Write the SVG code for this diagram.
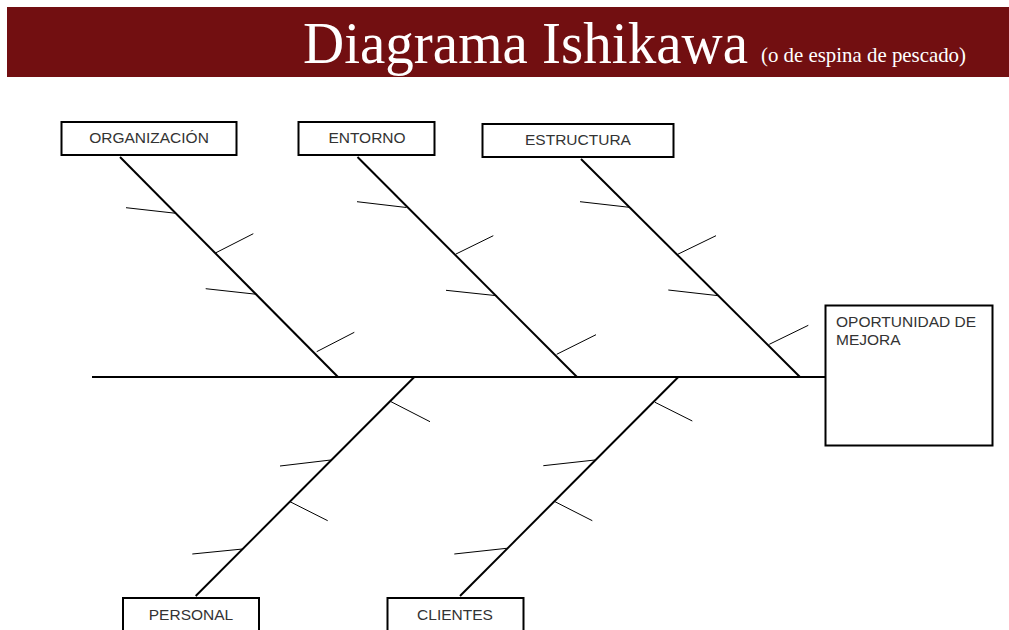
<svg xmlns="http://www.w3.org/2000/svg" width="1009" height="630" viewBox="0 0 1009 630">
<style>
.box{fill:#fff;stroke:#000;stroke-width:2}
.lbl{font-family:"Liberation Sans",Arial,sans-serif;font-size:15.5px;fill:#333}
.bone{stroke:#000;stroke-width:2;fill:none}
.tick{stroke:#000;stroke-width:1;fill:none}
</style>
<rect x="0" y="0" width="1009" height="630" fill="#fff"/>
<g id="header">
<rect x="7" y="7" width="1002" height="70" fill="#720F11"/>
<text x="303" y="63" font-family="'Liberation Serif','Times New Roman',serif" font-size="60" fill="#fff" textLength="445" lengthAdjust="spacingAndGlyphs">Diagrama Ishikawa</text>
<text x="761" y="62" font-family="'Liberation Serif','Times New Roman',serif" font-size="21" fill="#fff" textLength="205" lengthAdjust="spacingAndGlyphs">(o de espina de pescado)</text>
</g>
<g id="connectors">
<line class="bone" x1="92" y1="377" x2="825" y2="377"/>
<line class="bone" x1="120" y1="157" x2="338" y2="377"/>
<line class="tick" x1="126" y1="207.7" x2="176" y2="213.3"/>
<line class="tick" x1="216" y1="252.7" x2="253.3" y2="233.7"/>
<line class="tick" x1="205.7" y1="288.7" x2="256.7" y2="294.3"/>
<line class="tick" x1="316.7" y1="351.7" x2="354.3" y2="332.3"/>
<line class="bone" x1="357.5" y1="157" x2="577" y2="377"/>
<line class="tick" x1="357" y1="201.7" x2="406.5" y2="207.5"/>
<line class="tick" x1="456" y1="254" x2="493.3" y2="235.7"/>
<line class="tick" x1="446" y1="290.3" x2="496.7" y2="295.7"/>
<line class="tick" x1="556.7" y1="354.3" x2="596" y2="334.7"/>
<line class="bone" x1="581" y1="159" x2="800" y2="377"/>
<line class="tick" x1="580" y1="201.7" x2="629.3" y2="207.3"/>
<line class="tick" x1="677.7" y1="254.3" x2="716" y2="235.7"/>
<line class="tick" x1="668.3" y1="290" x2="718.3" y2="295.7"/>
<line class="tick" x1="769.3" y1="344.3" x2="808.3" y2="325.3"/>
<line class="bone" x1="414.3" y1="377" x2="195.7" y2="596"/>
<line class="tick" x1="391" y1="401.7" x2="430" y2="421.7"/>
<line class="tick" x1="280" y1="466" x2="330.7" y2="460"/>
<line class="tick" x1="290" y1="501.7" x2="327.7" y2="520.7"/>
<line class="tick" x1="192.3" y1="554" x2="242.7" y2="549"/>
<line class="bone" x1="678.3" y1="377" x2="460" y2="596"/>
<line class="tick" x1="655" y1="402.3" x2="692.3" y2="421"/>
<line class="tick" x1="543.3" y1="465.7" x2="595" y2="460"/>
<line class="tick" x1="555" y1="501.7" x2="592.3" y2="520.7"/>
<line class="tick" x1="454.3" y1="554" x2="506.7" y2="548.3"/>
</g>
<g id="organizacion">
<rect class="box" x="61.5" y="122" width="175" height="33"/>
<text class="lbl" x="149" y="143" text-anchor="middle">ORGANIZACIÓN</text>
</g>
<g id="entorno">
<rect class="box" x="298.5" y="122" width="136" height="33"/>
<text class="lbl" x="367" y="143" text-anchor="middle">ENTORNO</text>
</g>
<g id="estructura">
<rect class="box" x="482.5" y="124" width="191" height="33"/>
<text class="lbl" x="578" y="145" text-anchor="middle">ESTRUCTURA</text>
</g>
<g id="oportunidad">
<rect class="box" x="825.5" y="305.5" width="167" height="140"/>
<text class="lbl" x="836" y="327">OPORTUNIDAD DE</text>
<text class="lbl" x="836" y="345">MEJORA</text>
</g>
<g id="personal">
<rect class="box" x="123" y="598" width="136" height="40"/>
<text class="lbl" x="191" y="620" text-anchor="middle">PERSONAL</text>
</g>
<g id="clientes">
<rect class="box" x="387.5" y="598" width="136" height="40"/>
<text class="lbl" x="455" y="620" text-anchor="middle">CLIENTES</text>
</g>
</svg>
